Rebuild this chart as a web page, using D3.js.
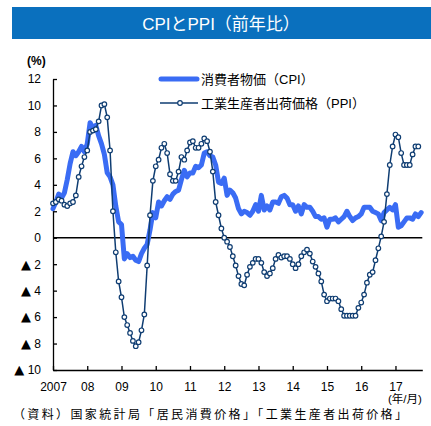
<html>
<head>
  <meta charset="utf-8">
  <title>CPIとPPI（前年比）</title>
  <script src="https://d3js.org/d3.v7.min.js"></script>
  <style>
    body {
      margin: 0;
      background: #ffffff;
    }

    text {
      font-family: "Liberation Sans", Arial, "Noto Sans CJK JP", sans-serif;
    }
  </style>
</head>

<body>
  <svg id="chart" width="431" height="426"></svg>

  <script>
    // 消費者物価 (CPI), 2007/01 - 2017/10, 前年比 %
    const cpi = [
      2.2, 2.7, 3.3, 3.0, 3.4, 4.4, 5.6, 6.5, 6.2, 6.5, 6.9, 6.5,
      7.1, 8.7, 8.3, 8.5, 7.7, 7.1, 6.3, 4.9, 4.6, 4.0, 2.4, 1.2,
      1.0, -1.6, -1.2, -1.5, -1.4, -1.7, -1.8, -1.2, -0.8, -0.5, 0.6, 1.9,
      1.5, 2.7, 2.4, 2.8, 3.1, 2.9, 3.3, 3.5, 3.6, 4.4, 5.1, 4.6,
      4.9, 4.9, 5.4, 5.3, 5.5, 6.4, 6.5, 6.2, 6.1, 5.5, 4.2, 4.1,
      4.5, 3.2, 3.6, 3.4, 3.0, 2.2, 1.8, 2.0, 1.9, 1.7, 2.0, 2.5,
      2.0, 3.2, 2.1, 2.4, 2.1, 2.7, 2.7, 2.6, 3.1, 3.2, 3.0, 2.5,
      2.5, 2.0, 2.4, 1.8, 2.5, 2.3, 2.3, 2.0, 1.6, 1.6, 1.4, 1.5,
      0.8, 1.4, 1.4, 1.5, 1.2, 1.4, 1.6, 2.0, 1.6, 1.3, 1.5, 1.6,
      1.8, 2.3, 2.3, 2.3, 2.0, 1.9, 1.8, 1.3, 1.9, 2.1, 2.3, 2.1,
      2.5, 0.8, 0.9, 1.2, 1.5, 1.5, 1.4, 1.8, 1.6, 1.9
    ];

    // 工業生産者出荷価格 (PPI), as plotted from the first category on
    const ppi = [
      2.6, 2.7, 2.9, 2.8, 2.5, 2.4, 2.6, 2.7, 3.2, 4.6, 5.4,
      6.1, 6.6, 8.0, 8.1, 8.2, 8.8, 10.0, 10.1, 9.1, 6.6, 2.0, -1.1,
      -3.3, -4.5, -6.0, -6.6, -7.2, -7.8, -8.2, -7.9, -7.0, -5.8, -2.1, 1.7,
      4.3, 5.4, 5.9, 6.8, 7.1, 6.4, 4.8, 4.3, 4.3, 5.0, 6.1, 5.9,
      6.6, 7.2, 7.3, 6.8, 6.8, 7.1, 7.5, 7.3, 6.5, 5.0, 2.7, 1.7,
      0.7, 0.0, -0.3, -0.7, -1.4, -2.1, -2.9, -3.5, -3.6, -2.8, -2.2, -1.9,
      -1.6, -1.6, -1.9, -2.6, -2.9, -2.7, -2.3, -1.6, -1.3, -1.5, -1.4, -1.4,
      -1.6, -2.0, -2.3, -2.0, -1.4, -1.1, -0.9, -1.2, -1.8, -2.2, -2.7, -3.3,
      -4.3, -4.8, -4.6, -4.6, -4.6, -4.8, -5.4, -5.9, -5.9, -5.9, -5.9, -5.9,
      -5.3, -4.9, -4.3, -3.4, -2.8, -2.6, -1.7, -0.8, 0.1, 1.2, 3.3, 5.5,
      6.9, 7.8, 7.6, 6.4, 5.5, 5.5, 5.5, 6.3, 6.9, 6.9
    ];

    const yearLabels = ["2007", "08", "09", "10", "11", "12", "13", "14", "15", "16", "17"];
    const yTicks = [12, 10, 8, 6, 4, 2, 0, -2, -4, -6, -8, -10];

    const cpiColor = "#3a6cf4";
    const ppiColor = "#0f3d72";

    const svg = d3.select("#chart");

    // title bar
    svg.append("rect")
      .attr("x", 12)
      .attr("y", 7)
      .attr("width", 419)
      .attr("height", 32)
      .attr("fill", "#0a70be");

    svg.append("text")
      .attr("x", 221)
      .attr("y", 30)
      .attr("text-anchor", "middle")
      .attr("fill", "#ffffff")
      .attr("font-size", "17px")
      .text("CPIとPPI（前年比）");

    svg.append("text")
      .attr("x", 27)
      .attr("y", 65)
      .attr("font-size", "12px")
      .attr("font-weight", "bold")
      .text("(%)");

    // scales (x = month index)
    const x = d3.scaleLinear().domain([0, 129.4]).range([53, 422.3]);
    const y = d3.scaleLinear().domain([-10, 12]).range([370, 79]);

    // axes
    const yAxis = svg.append("g")
      .attr("transform", "translate(53,0)")
      .call(d3.axisLeft(y)
        .tickValues(yTicks)
        .tickSizeInner(-4)
        .tickSizeOuter(0)
        .tickPadding(12)
        .tickFormat(d => d < 0 ? -d : d))
      .call(g => g.selectAll("path, line").attr("stroke", "#000").attr("stroke-width", 1.3))
      .call(g => g.selectAll("text").attr("font-size", "12px").attr("fill", "#000")
        .style("font-family", "'Liberation Sans', Arial, sans-serif"));

    // ▲ in front of negative values
    yAxis.selectAll(".tick text")
      .filter(d => d < 0)
      .each(function (d) {
        const t = d3.select(this);
        t.text(null);
        t.append("tspan")
          .attr("font-size", "13px")
          .style("font-family", "'DejaVu Sans', sans-serif")
          .text("▲");
        t.append("tspan").text(" " + (-d));
      });

    svg.append("g")
      .attr("transform", "translate(0,370)")
      .call(d3.axisBottom(x)
        .tickValues(d3.range(0, 121, 12))
        .tickSizeInner(-4)
        .tickSizeOuter(0)
        .tickPadding(12)
        .tickFormat(i => yearLabels[i / 12]))
      .call(g => g.selectAll("path, line").attr("stroke", "#000").attr("stroke-width", 1.3))
      .call(g => g.selectAll("text").attr("font-size", "12px").attr("fill", "#000")
        .style("font-family", "'Liberation Sans', Arial, sans-serif"));

    // zero line
    svg.append("line")
      .attr("x1", x(0))
      .attr("x2", x(129.4))
      .attr("y1", y(0))
      .attr("y2", y(0))
      .attr("stroke", "#000")
      .attr("stroke-width", 1.3);

    const line = d3.line()
      .x((d, i) => x(i))
      .y(d => y(d));

    // CPI
    svg.append("path")
      .datum(cpi)
      .attr("d", line)
      .attr("fill", "none")
      .attr("stroke", cpiColor)
      .attr("stroke-width", 5)
      .attr("stroke-linejoin", "round")
      .attr("stroke-linecap", "round");

    // PPI
    svg.append("path")
      .datum(ppi)
      .attr("d", line)
      .attr("fill", "none")
      .attr("stroke", ppiColor)
      .attr("stroke-width", 1.5);

    svg.append("g")
      .selectAll("circle")
      .data(ppi)
      .join("circle")
      .attr("cx", (d, i) => x(i))
      .attr("cy", d => y(d))
      .attr("r", 2.3)
      .attr("fill", "#ffffff")
      .attr("stroke", ppiColor)
      .attr("stroke-width", 1.2);

    // legend
    svg.append("line")
      .attr("x1", 161).attr("x2", 197)
      .attr("y1", 79).attr("y2", 79)
      .attr("stroke", cpiColor)
      .attr("stroke-width", 5)
      .attr("stroke-linecap", "round");

    svg.append("text")
      .attr("x", 201)
      .attr("y", 84)
      .attr("font-size", "13px")
      .text("消費者物価（CPI）");

    svg.append("line")
      .attr("x1", 160).attr("x2", 198)
      .attr("y1", 103).attr("y2", 103)
      .attr("stroke", ppiColor)
      .attr("stroke-width", 1.5);

    svg.append("circle")
      .attr("cx", 180)
      .attr("cy", 103)
      .attr("r", 2.3)
      .attr("fill", "#ffffff")
      .attr("stroke", ppiColor)
      .attr("stroke-width", 1.2);

    svg.append("text")
      .attr("x", 201)
      .attr("y", 108)
      .attr("font-size", "13px")
      .text("工業生産者出荷価格（PPI）");

    // notes
    svg.append("text")
      .attr("x", 388)
      .attr("y", 403)
      .attr("font-size", "11.5px")
      .text("(年/月)");

    svg.append("text")
      .attr("x", 13)
      .attr("y", 419)
      .attr("font-size", "12px")
      .attr("textLength", 394)
      .text("（資料）国家統計局「居民消費价格」「工業生産者出荷价格」");
  </script>
</body>

</html>
